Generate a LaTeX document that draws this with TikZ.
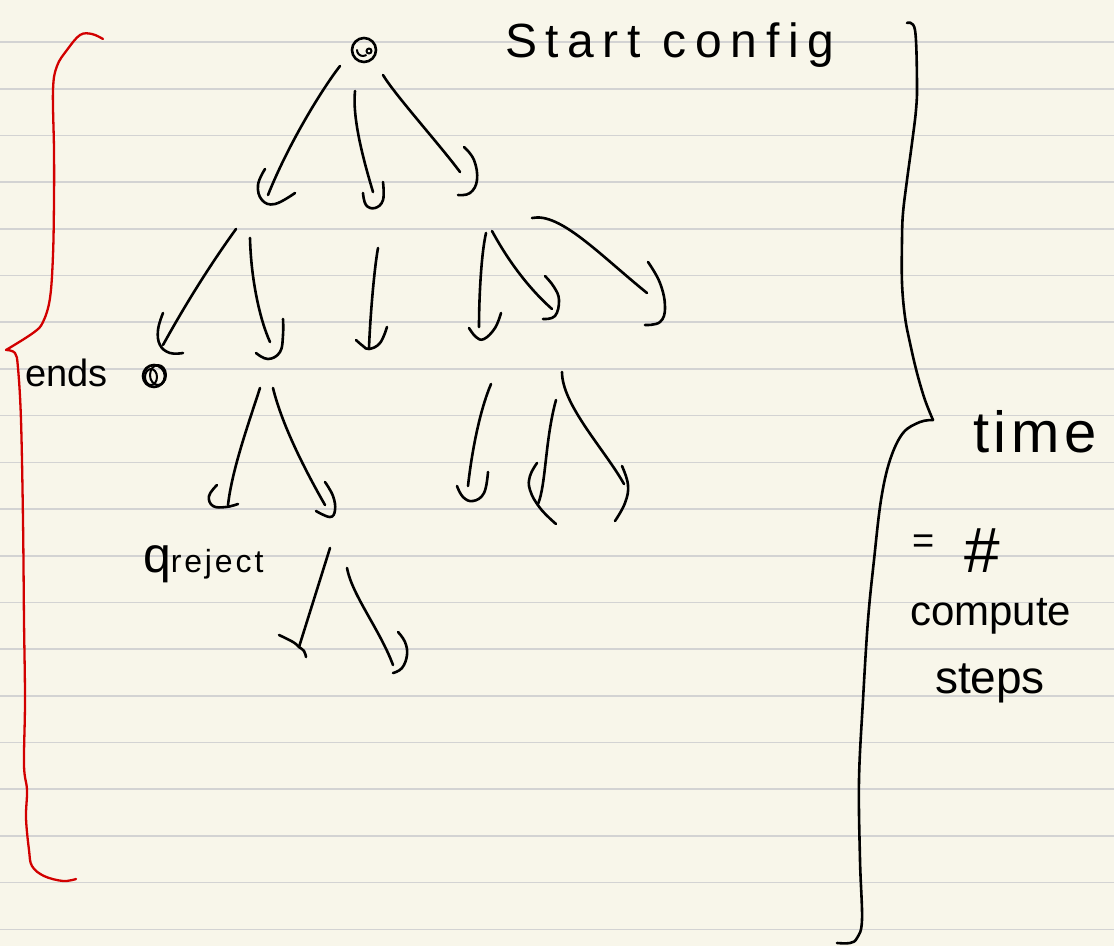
\documentclass[tikz,border=0pt]{standalone}
\usepackage{fontspec}
\usepackage{graphicx}
\setmainfont{Liberation Sans}
\definecolor{paper}{HTML}{F8F6EA}
\definecolor{rulegray}{HTML}{D3D3D3}
\definecolor{inkred}{HTML}{D20000}
\newcommand\handfont[2]{\fontsize{#1}{#1}\selectfont\addfontfeatures{LetterSpace=#2}}
\begin{document}
\begin{tikzpicture}[x=1pt,y=-1pt,
  ink/.style={line width=2.6pt, line cap=round, line join=round},
  redink/.style={ink, inkred, line width=2.3pt},
  ruleline/.style={rulegray, line width=1.6pt},
  conn/.style={ink},
  head/.style={ink},
  lbl/.style={anchor=base west, inner sep=0pt, outer sep=0pt},
  config/.style={circle, draw, ink, inner sep=0pt}]
\fill[paper] (0,0) rectangle (1114,946);
\useasboundingbox (0,0) rectangle (1114,946);
\foreach \k in {0,...,19}{
  \pgfmathsetmacro\yy{42+46.7*\k}
  \draw[ruleline] (0,\yy) -- (1114,\yy);
}

% configuration dots
\node[config, minimum size=24pt] (root) at (364,50) {};
\draw[ink, line width=2pt] (369,51) circle (2.5);
\draw[ink, line width=2pt] (357,50) arc[start angle=180, end angle=60, radius=6];
\node[config, minimum size=22pt] (halt) at (154,376) {};
\draw[ink, line width=2pt] (158,375) ellipse [x radius=8, y radius=10];
\draw[ink, line width=2pt] (151,377) ellipse [x radius=6, y radius=8];

% connector end points
\coordinate (a1s) at (340,66);  \coordinate (a1e) at (268,195);
\coordinate (a2s) at (355,91);  \coordinate (a2e) at (373,192);
\coordinate (a3s) at (383,75);  \coordinate (a3e) at (460,172);
\coordinate (b1s) at (236,229); \coordinate (b1e) at (163,345);
\coordinate (b2s) at (250,238); \coordinate (b2e) at (270,342);
\coordinate (b3s) at (378,248); \coordinate (b3e) at (369,348);
\coordinate (b4s) at (486,233); \coordinate (b4e) at (479,327);
\coordinate (b5s) at (492,231); \coordinate (b5e) at (552,309);
\coordinate (b6s) at (532,218); \coordinate (b6e) at (647,293);
\coordinate (c1s) at (260,388); \coordinate (c1e) at (228,505);
\coordinate (c2s) at (273,388); \coordinate (c2e) at (325,505);
\coordinate (c3s) at (491,384); \coordinate (c3e) at (468,486);
\coordinate (c4s) at (556,400); \coordinate (c4e) at (538,504);
\coordinate (c5s) at (562,372); \coordinate (c5e) at (624,484);
\coordinate (d1s) at (330,548); \coordinate (d1e) at (299,647);
\coordinate (d2s) at (347,568); \coordinate (d2e) at (393,665);

% connectors
\draw[conn] (a1s) .. controls (325,85) and (290,140) .. (a1e);
\draw[conn] (a2s) .. controls (352,120) and (365,165) .. (a2e);
\draw[conn] (a3s) .. controls (395,95) and (440,145) .. (a3e);
\draw[conn] (b1s) .. controls (210,265) and (185,305) .. (b1e);
\draw[conn] (b2s) .. controls (251,280) and (260,320) .. (b2e);
\draw[conn] (b3s) .. controls (374,270) and (370,320) .. (b3e);
\draw[conn] (b4s) .. controls (481,255) and (479,300) .. (b4e);
\draw[conn] (b5s) .. controls (505,255) and (525,285) .. (b5e);
\draw[conn] (b6s) .. controls (560,212) and (600,255) .. (b6e);
\draw[conn] (c1s) .. controls (248,425) and (232,470) .. (c1e);
\draw[conn] (c2s) .. controls (282,425) and (305,470) .. (c2e);
\draw[conn] (c3s) .. controls (480,410) and (472,450) .. (c3e);
\draw[conn] (c4s) .. controls (545,440) and (546,485) .. (c4e);
\draw[conn] (c5s) .. controls (562,405) and (605,450) .. (c5e);
\draw[conn] (d1s) -- (d1e);
\draw[conn] (d2s) .. controls (352,595) and (380,630) .. (d2e);

% hand-drawn arrow heads
\draw[head] plot[smooth, tension=0.7] coordinates {(265,169) (258,185) (262,200) (275,204) (295,193)};
\draw[head] plot[smooth, tension=0.7] coordinates {(363,193) (366,205) (375,208) (383,200) (383,182)};
\draw[head] plot[smooth, tension=0.7] coordinates {(464,147) (474,160) (477,180) (470,193) (458,195)};
\draw[head] plot[smooth, tension=0.7] coordinates {(163,313) (158,330) (160,345) (170,353) (183,353)};
\draw[head] plot[smooth, tension=0.7] coordinates {(256,353) (268,359) (280,352) (283,335) (283,319)};
\draw[head] plot[smooth, tension=0.7] coordinates {(356,340) (363,346) (369,349) (380,343) (387,327)};
\draw[head] plot[smooth, tension=0.7] coordinates {(469,328) (476,337) (484,339) (495,328) (501,313)};
\draw[head] plot[smooth, tension=0.7] coordinates {(545,276) (554,287) (559,300) (555,316) (543,319)};
\draw[head] plot[smooth, tension=0.7] coordinates {(648,262) (660,283) (665,307) (660,322) (645,325)};
\draw[head] plot[smooth, tension=0.7] coordinates {(217,485) (209,496) (213,506) (226,507) (238,504)};
\draw[head] plot[smooth, tension=0.7] coordinates {(325,482) (333,496) (335,510) (330,517) (316,511)};
\draw[head] plot[smooth, tension=0.7] coordinates {(457,486) (463,497) (473,501) (484,493) (488,472)};
\draw[head] plot[smooth, tension=0.7] coordinates {(537,463) (530,476) (530,490) (540,508) (556,524)};
\draw[head] plot[smooth, tension=0.7] coordinates {(622,466) (628,485) (625,503) (615,521)};
\draw[head] plot[smooth, tension=0.7] coordinates {(279,635) (293,642) (299,647) (304,651) (306,657)};
\draw[head] plot[smooth, tension=0.7] coordinates {(398,632) (405,642) (407,655) (402,668) (393,673)};

% red brace
\draw[redink] plot[smooth, tension=0.6] coordinates {(103,39) (92,34) (80,35) (67,50) (57,66) (53,90) (54,150) (54,200) (53,255) (50,298) (43,322) (33,333) (6,350)};
\draw[redink] plot[smooth, tension=0.6] coordinates {(6,350) (15,353) (18,368) (21,420) (23,520) (24,620) (25,700) (24,765) (27,790) (26,818) (29,850) (32,866) (44,876) (63,881) (76,879)};

% black brace
\draw[ink] plot[smooth, tension=0.6] coordinates {(907,23) (915,30) (917,83) (916,110) (912,143) (907,180) (903,213) (902,240) (902,283) (905,317) (910,343) (917,373) (925,400) (933,420)};
\draw[ink] plot[smooth, tension=0.6] coordinates {(933,420) (920,422) (903,433) (890,460) (881,500) (874,560) (868,620) (863,700) (859,780) (860,860) (862,920) (857,938) (850,943) (837,943)};

% labels
\node[lbl] (start) at (505,57) {\handfont{48}{18}Start config};
\node[lbl] (ends) at (25,386) {\handfont{38}{0}ends};
\node[lbl] (qrej) at (143,572) {{\handfont{50}{0}q}{\handfont{32}{9}reject}};
\node[lbl] (time) at (973,452) {\handfont{58}{8}time};
\node[lbl] (eq) at (912,553) {\handfont{38}{0}=};
\node[lbl] (hash) at (964,572) {\handfont{64}{0}\#};
\node[lbl] (compute) at (910,625) {\handfont{42}{0}compute};
\node[lbl] (steps) at (935,693) {\handfont{46}{0}steps};
\end{tikzpicture}
\end{document}
